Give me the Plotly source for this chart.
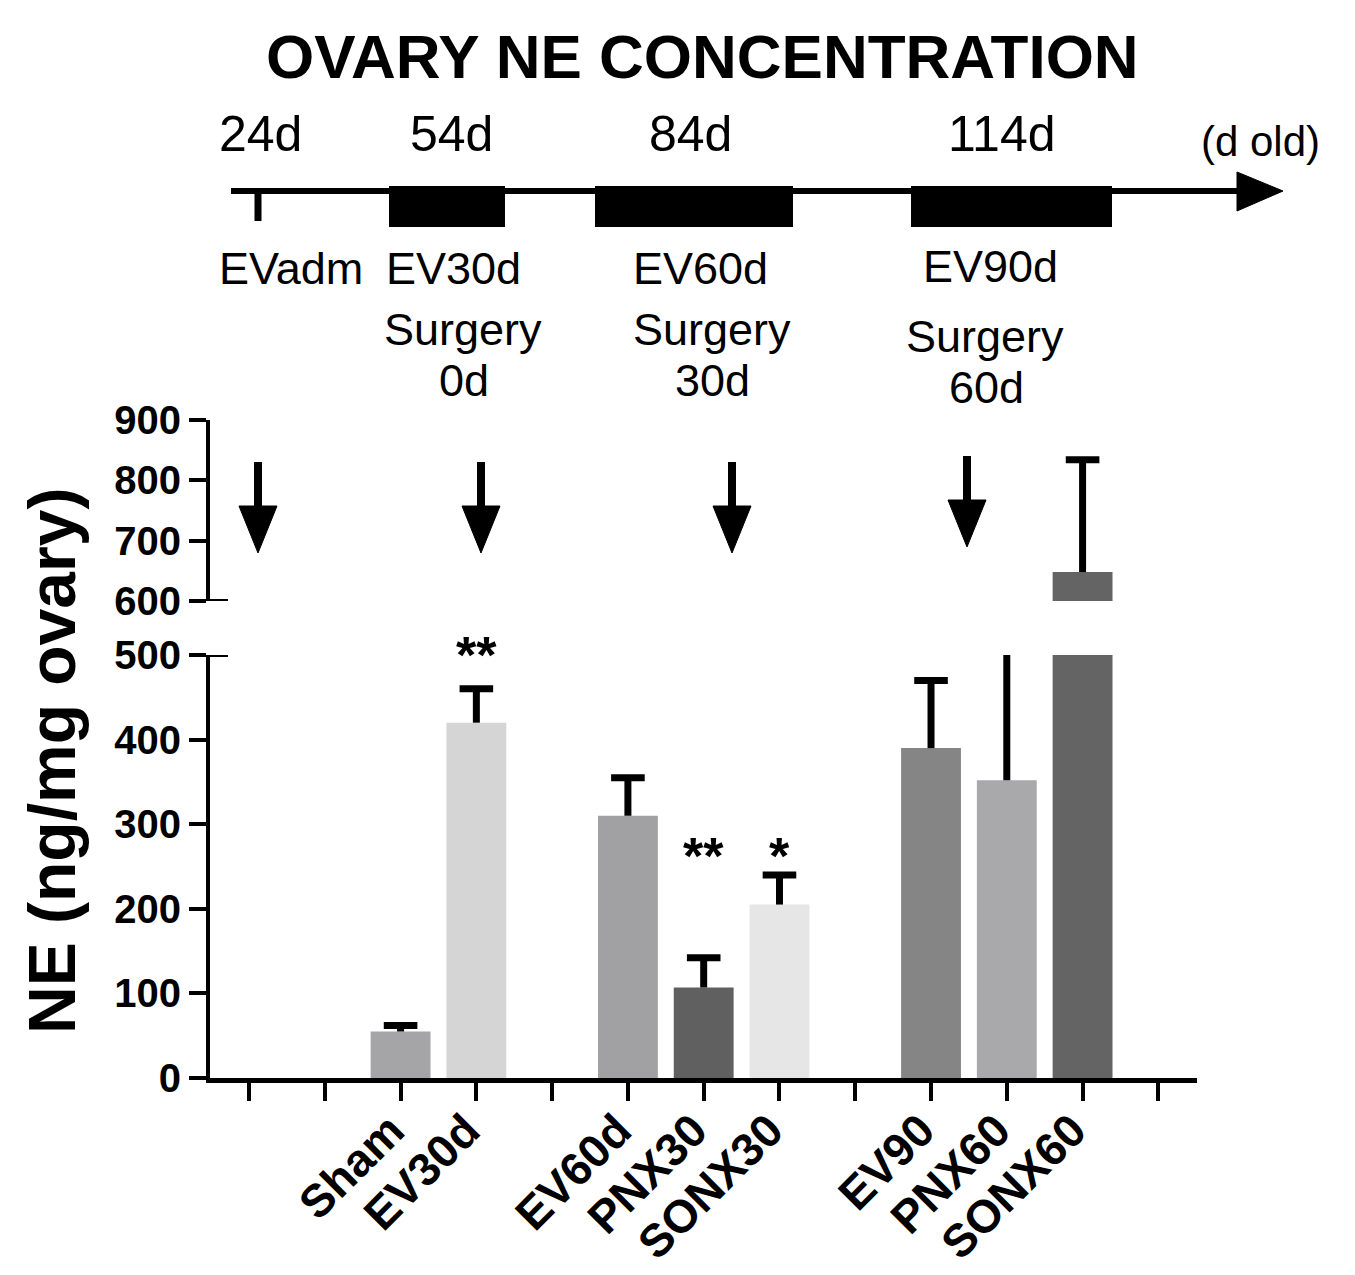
import plotly.graph_objects as go

# ---------------- data ----------------
slots = ["g0", "g1", "Sham", "EV30d", "g4", "EV60d", "PNX30", "SONX30",
         "g8", "EV90", "PNX60", "SONX60", "g12"]
slot_text = ["", "", "Sham", "EV30d", "", "EV60d", "PNX30", "SONX30",
             "", "EV90", "PNX60", "SONX60", ""]
groups = ["Sham", "EV30d", "EV60d", "PNX30", "SONX30", "EV90", "PNX60", "SONX60"]
values = [55, 420, 310, 107, 205, 390, 352, 648]
errors = [7, 40, 45, 35, 35, 80, 200, 186]
colors = ["#a5a5a8", "#d5d5d5", "#a1a1a4", "#606060", "#e6e6e6",
          "#858585", "#a9a9ab", "#646464"]
star_groups = ["EV30d", "PNX30", "SONX30"]
star_text = ["**", "**", "*"]
star_y = [500, 262, 262]

lower_ticks = [0, 100, 200, 300, 400, 500]
upper_ticks = [600, 700, 800, 900]

# ---------------- geometry helpers (reference pixel -> paper) ----------------
OFF = 8                      # page body margin
W, H = 1355 - OFF, 1275 - OFF
PL, PR, PT, PB = 210, 1197, 420, 1078   # plot area in reference pixels
PW, PH = PR - PL, PB - PT
L, T = PL - OFF, PT - OFF
R, B = W - L - PW, H - T - PH


def px(x):
    return (x - PL) / PW


def py(y):
    return (PB - y) / PH


FONT = "Liberation Sans, Arial, sans-serif"

fig = go.Figure()
for yax in ["y", "y2"]:
    fig.add_trace(go.Bar(
        x=groups, y=values, yaxis=yax,
        marker=dict(color=colors, line=dict(width=0)),
        width=0.79, showlegend=False, cliponaxis=True, hoverinfo="skip",
    ))
    # upward error bars: stem + top cap
    for g, v, e in zip(groups, values, errors):
        fig.add_trace(go.Scatter(
            x=[g, g], y=[v, v + e], yaxis=yax, mode="lines",
            line=dict(color="black", width=7), showlegend=False,
            hoverinfo="skip"))
        fig.add_trace(go.Scatter(
            x=[g], y=[v + e], yaxis=yax, mode="markers", cliponaxis=True,
            marker=dict(symbol="line-ew", size=24, color="black",
                        line=dict(color="black", width=7)),
            showlegend=False, hoverinfo="skip"))

fig.update_layout(
    width=W, height=H,
    margin=dict(l=L, r=R, t=T, b=B, pad=0, autoexpand=False),
    paper_bgcolor="white", plot_bgcolor="white",
    barmode="overlay",
    xaxis=dict(type="category", categoryarray=slots, categoryorder="array",
               tickmode="array", tickvals=slots, ticktext=slot_text,
               range=[-0.515, 12.51], showline=True, linewidth=5,
               linecolor="black", ticks="outside", ticklen=18, tickwidth=4,
               tickcolor="black", tickangle=-45, showgrid=False,
               zeroline=False, anchor="y", automargin=False,
               ticklabelstandoff=-16, ticklabelshift=-10,
               tickfont=dict(family=FONT, size=46, color="black",
                             weight="bold")),
    yaxis=dict(domain=[0, py(655)], range=[0, 500], tickvals=lower_ticks,
               showline=True, linewidth=4, linecolor="black",
               ticks="outside", ticklen=17, tickwidth=4, tickcolor="black",
               showgrid=False, zeroline=False, automargin=False,
               tickfont=dict(family=FONT, size=40, color="black",
                             weight="bold")),
    yaxis2=dict(domain=[py(601), 1], range=[600, 900], tickvals=upper_ticks,
                showline=True, linewidth=4, linecolor="black",
                ticks="outside", ticklen=17, tickwidth=4, tickcolor="black",
                showgrid=False, zeroline=False, anchor="x", automargin=False,
                tickfont=dict(family=FONT, size=40, color="black",
                              weight="bold")),
)

shapes = []
# break marks at 500 and 600
shapes.append(dict(type="line", xref="paper", yref="y", x0=0, x1=px(228),
                   y0=500, y1=500, line=dict(color="black", width=4)))
shapes.append(dict(type="line", xref="paper", yref="y2", x0=0, x1=px(228),
                   y0=600, y1=600, line=dict(color="black", width=4)))

# timeline
shapes.append(dict(type="line", xref="paper", yref="paper", x0=px(231),
                   x1=px(1245), y0=py(191), y1=py(191),
                   line=dict(color="black", width=6)))
shapes.append(dict(type="path", xref="paper", yref="paper",
                   path=f"M {px(1237)},{py(172)} L {px(1283)},{py(191)} "
                        f"L {px(1237)},{py(211)} Z",
                   fillcolor="black", line=dict(color="black", width=1)))
shapes.append(dict(type="line", xref="paper", yref="paper", x0=px(258),
                   x1=px(258), y0=py(190), y1=py(221),
                   line=dict(color="black", width=7)))
for x0, x1 in [(389, 505), (595, 793), (911, 1112)]:
    shapes.append(dict(type="rect", xref="paper", yref="paper",
                       x0=px(x0), x1=px(x1), y0=py(186), y1=py(227),
                       fillcolor="black", line=dict(width=0)))

# down arrows
for ax in [258, 481, 732, 967]:
    top = 462 if ax != 967 else 456
    shift = 0 if ax != 967 else -6
    shapes.append(dict(type="line", xref="paper", yref="paper",
                       x0=px(ax), x1=px(ax), y0=py(top), y1=py(512 + shift),
                       line=dict(color="black", width=8)))
    shapes.append(dict(type="path", xref="paper", yref="paper",
                       path=f"M {px(ax - 19)},{py(506 + shift)} "
                            f"L {px(ax + 19)},{py(506 + shift)} "
                            f"L {px(ax)},{py(553 + shift)} Z",
                       fillcolor="black", line=dict(color="black", width=1)))
fig.update_layout(shapes=shapes)

ann = []


def text(t, x, y, size, bold=False, **kw):
    ann.append(dict(text=t, x=px(x), y=py(y), xref="paper", yref="paper",
                    showarrow=False, xanchor="center", yanchor="middle",
                    font=dict(family=FONT, size=size, color="black",
                              weight="bold" if bold else "normal"), **kw))


text("OVARY NE CONCENTRATION", 702, 56, 62, bold=True)
text("24d", 260, 134, 50)
text("54d", 451, 134, 50)
text("84d", 690, 134, 50)
text("114d", 1002, 134, 50)
text("(d old)", 1260, 142, 42)
text("EVadm", 291, 268, 45)
text("EV30d", 453, 268, 45)
text("EV60d", 700, 268, 45)
text("EV90d", 990, 266, 45)
text("Surgery", 463, 329, 45)
text("0d", 464, 381, 45)
text("Surgery", 712, 329, 45)
text("30d", 712, 381, 45)
text("Surgery", 985, 336, 45)
text("60d", 986, 387, 45)
text("NE (ng/mg ovary)", 52, 761, 66, bold=True, textangle=-90)

for g, s, yv in zip(star_groups, star_text, star_y):
    ann.append(dict(text=s, x=g, y=yv, xref="x", yref="y", showarrow=False,
                    xanchor="center", yanchor="middle",
                    font=dict(family=FONT, size=52, color="black",
                              weight="bold")))

fig.update_layout(annotations=ann)
fig.write_html("out.html")
